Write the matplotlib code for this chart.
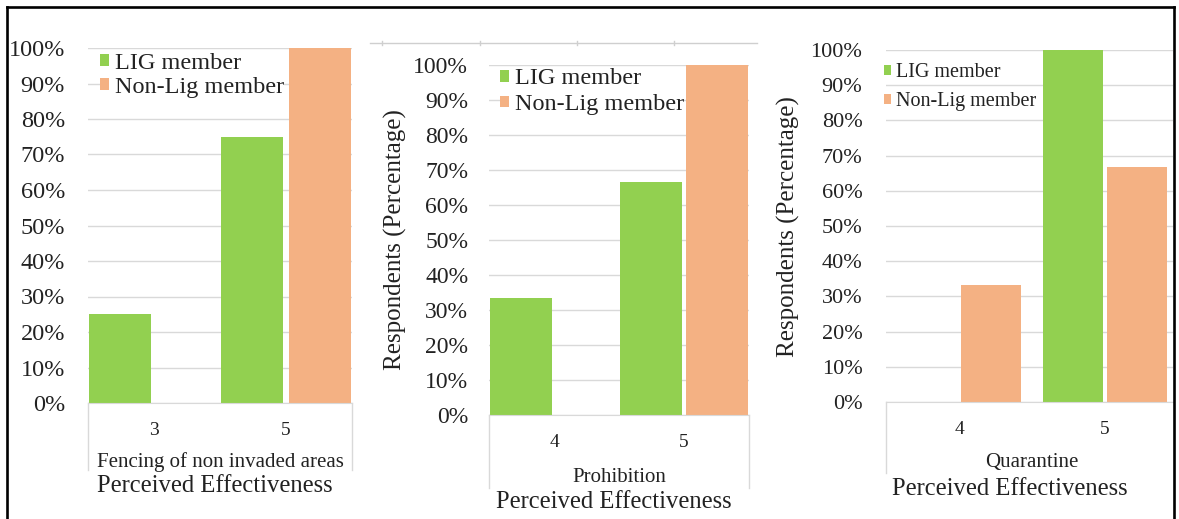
import matplotlib
matplotlib.use("Agg")
import matplotlib.pyplot as plt
from matplotlib.ticker import PercentFormatter, MultipleLocator
from matplotlib.lines import Line2D
import numpy as np

plt.rcParams['font.family'] = ['Liberation Serif', 'DejaVu Serif']

# ---------------- data ----------------
series_names = ['LIG member', 'Non-Lig member']

fencing_categories = ['3', '5']
fencing_lig = [25.0, 75.0]
fencing_non = [0.0, 100.0]

prohibition_categories = ['4', '5']
prohibition_lig = [33.3, 66.7]
prohibition_non = [0.0, 100.0]

quarantine_categories = ['4', '5']
quarantine_lig = [0.0, 100.0]
quarantine_non = [33.3, 66.7]

measure_titles = ['Fencing of non invaded areas', 'Prohibition', 'Quarantine']
x_title = 'Perceived Effectiveness'
y_title = 'Respondents (Percentage)'

# ---------------- style ----------------
W, H = 1179, 519
GREEN = '#92D050'
ORANGE = '#F4B183'
GRID = '#D9D9D9'
TXT = '#222222'

fig = plt.figure(figsize=(W / 100, H / 100), dpi=100)


def px_axes(x0, y0, x1, y1):
    return fig.add_axes([x0 / W, 1 - y1 / H, (x1 - x0) / W, (y1 - y0) / H])


def ftext(x, y, s, size, **kw):
    fig.text(x / W, 1 - y / H, s, fontsize=size, color=TXT,
             ha=kw.pop('ha', 'center'), va=kw.pop('va', 'center'), **kw)


def vline(x, y0, y1, color=GRID, lw=1.0):
    fig.add_artist(Line2D([x / W, x / W], [1 - y0 / H, 1 - y1 / H],
                          color=color, lw=lw, transform=fig.transFigure))


def hline(y, x0, x1, color=GRID, lw=1.0):
    fig.add_artist(Line2D([x0 / W, x1 / W], [1 - y / H, 1 - y / H],
                          color=color, lw=lw, transform=fig.transFigure))


def panel(rect, cats, lig, non, width, offset, xright, ytick_size, ytick_pad,
          legend_kw):
    ax = px_axes(*rect)
    x = np.arange(len(cats))
    ax.bar(x - offset, lig, width, color=GREEN, label=series_names[0], zorder=2)
    ax.bar(x + offset, non, width, color=ORANGE, label=series_names[1], zorder=2)
    ax.set_xlim(-0.5, xright)
    ax.set_ylim(0, 100)
    ax.yaxis.set_major_locator(MultipleLocator(10))
    ax.yaxis.set_major_formatter(PercentFormatter(100, decimals=0))
    ax.grid(axis='y', color=GRID, lw=1.0, zorder=0)
    ax.set_axisbelow(True)
    for s in ['top', 'right', 'left']:
        ax.spines[s].set_visible(False)
    ax.spines['bottom'].set_color(GRID)
    ax.set_xticks(x)
    ax.set_xticklabels(cats)
    ax.tick_params(axis='x', length=0, pad=13.5, labelsize=14, labelcolor=TXT)
    ax.tick_params(axis='y', length=0, pad=ytick_pad, labelsize=ytick_size,
                   labelcolor=TXT)
    leg = ax.legend(loc='upper left', borderpad=0, borderaxespad=0,
                    handletextpad=0.25, handlelength=0.36, handleheight=0.36,
                    **legend_kw)
    for t in leg.get_texts():
        t.set_color(TXT)
    leg.set_zorder(5)
    return ax


# Panel 1: fencing
ax1 = panel((88, 48, 352, 403), fencing_categories, fencing_lig, fencing_non,
            0.477, 0.2576, 1.5, 17.5, 16.5,
            dict(bbox_to_anchor=(0.045, 0.986), fontsize=17.5, labelspacing=0.11,
                 frameon=True, facecolor='white', edgecolor='none', framealpha=1))

# Panel 2: prohibition
ax2 = panel((489, 65, 749, 415), prohibition_categories, prohibition_lig,
            prohibition_non, 0.477, 0.2576, 1.5, 17, 15,
            dict(bbox_to_anchor=(0.042, 0.990), fontsize=17.5, labelspacing=0.19,
                 frameon=True, facecolor='white', edgecolor='none', framealpha=1))
ax2.set_ylabel(y_title, fontsize=18, color=TXT, va='center')
ax2.yaxis.set_label_coords(-0.3615, 0.5)

# Panel 3: quarantine (cropped at right border)
ax3 = panel((886, 50, 1173, 402), quarantine_categories, quarantine_lig,
            quarantine_non, 0.41, 0.22, 1.5 - 5 / 146, 16, 17,
            dict(bbox_to_anchor=(-0.007, 0.962), fontsize=14.5, labelspacing=0.5,
                 frameon=False))
ax3.set_ylabel(y_title, fontsize=18, color=TXT, va='center')
ax3.yaxis.set_label_coords(-0.3415, 0.497)

# category-axis frame lines (multi-level axis look)
vline(88, 403, 470)
vline(352, 403, 470)
vline(489, 415, 488)
vline(749, 415, 488)
vline(886, 402, 473)

# measure names and axis titles
ftext(220, 462, measure_titles[0], 15)
ftext(215, 486, x_title, 17.7)
ftext(619, 477, measure_titles[1], 15)
ftext(614, 502, x_title, 17.7)
ftext(1032, 463, measure_titles[2], 15)
ftext(1010, 489, x_title, 17.7)

# faint top edge of middle chart with small tick marks
hline(42.5, 370, 757, color='#CFCFCF', lw=1.0)
for tx in [382, 480, 577, 674]:
    vline(tx, 41, 45, color='#CFCFCF', lw=1.0)

# black outer frame
hline(7, 7, 1174, color='black', lw=1.9)
vline(7, 7, 519, color='black', lw=1.9)
vline(1174, 7, 519, color='black', lw=1.9)

fig.savefig('out.png', dpi=100, facecolor='white')
